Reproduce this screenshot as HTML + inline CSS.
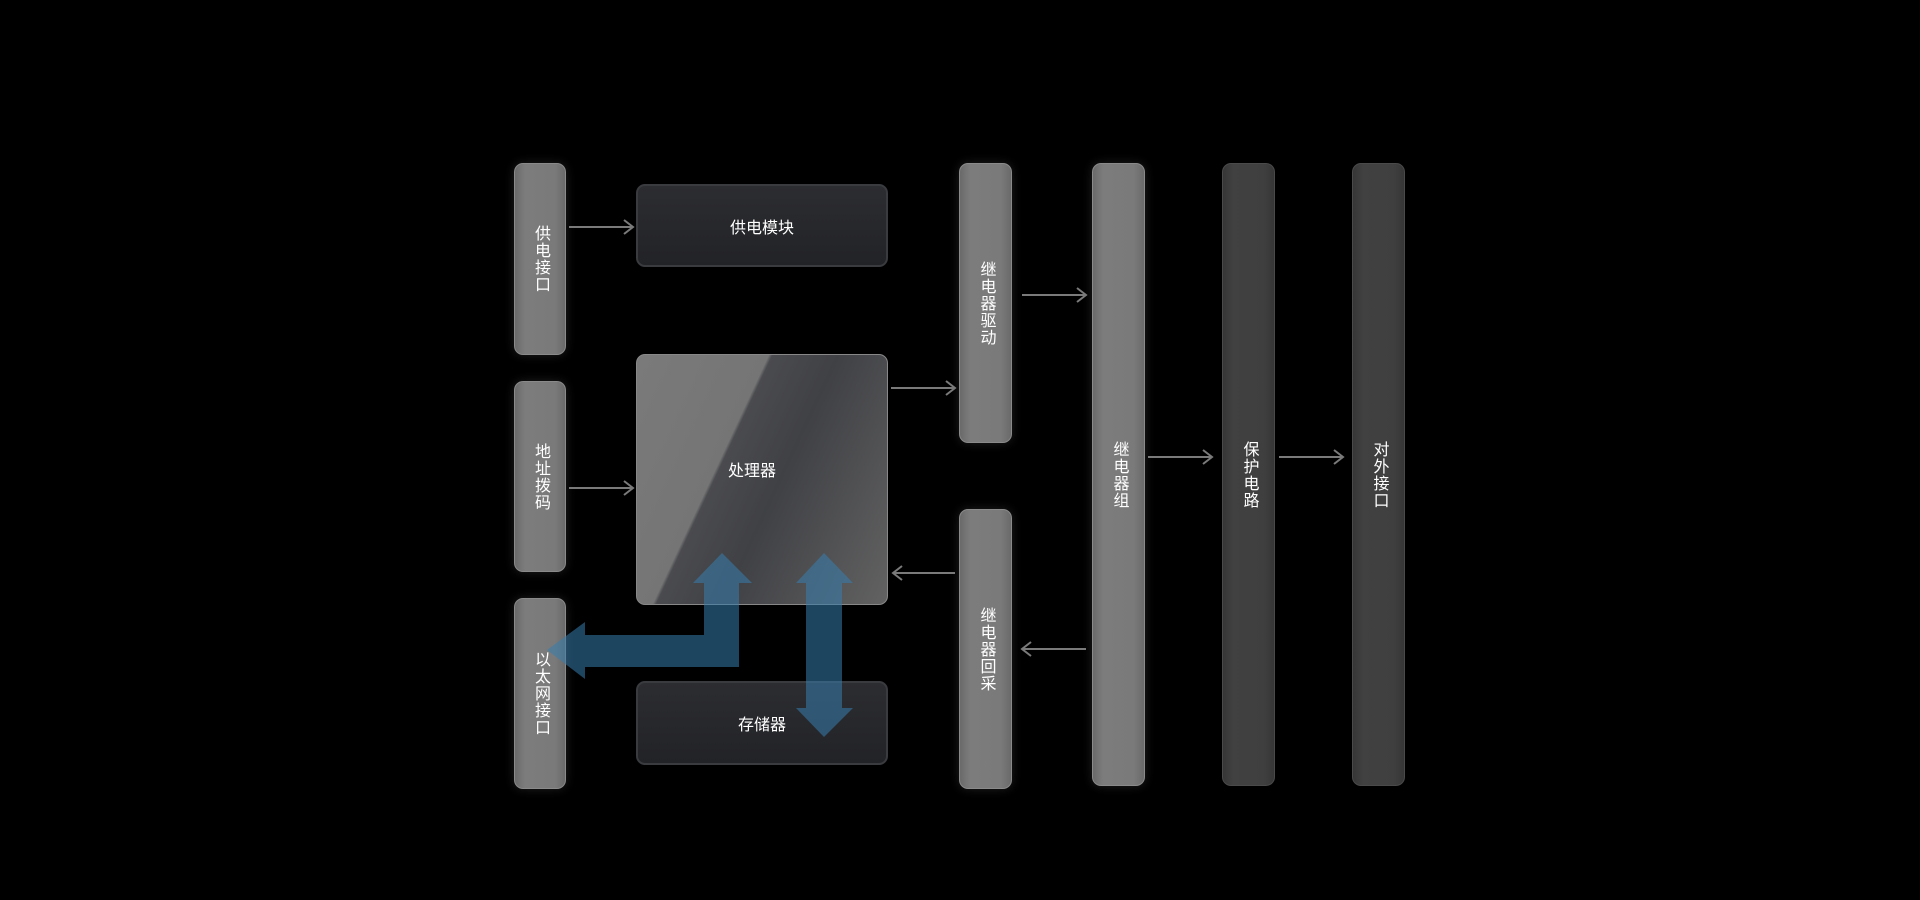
<!DOCTYPE html>
<html><head><meta charset="utf-8"><style>
body{margin:0;width:1920px;height:900px;background:#000;position:relative;overflow:hidden;font-family:"Liberation Sans","Noto Sans CJK SC",sans-serif;}
.b{position:absolute;box-sizing:border-box;border-radius:9px;color:#fff;font-size:16px;display:flex;align-items:center;justify-content:center;}
.p{background:linear-gradient(90deg,#6a6a6a,#7c7c7c 20%,#7a7a7a 80%,#6a6a6a);border:1px solid #8a8a8a;box-shadow:0 0 10px rgba(255,255,255,0.12);}
.d{background:linear-gradient(90deg,#363636,#414141 20%,#3f3f3f 80%,#363636);border:1px solid #4a4a4a;}
.v{writing-mode:vertical-rl;text-orientation:upright;letter-spacing:1px;}
.h{background:linear-gradient(180deg,#2c2d31,#222327);border:2px solid #3a3b3f;}
</style></head><body>
<div class="b p v" style="left:514px;top:163px;width:52px;height:192px">供电接口</div>
<div class="b p v" style="left:514px;top:381px;width:52px;height:191px">地址拨码</div>
<div class="b p v" style="left:514px;top:598px;width:52px;height:191px">以太网接口</div>
<div class="b h" style="left:636px;top:184px;width:252px;height:83px">供电模块</div>
<div class="b" style="left:636px;top:354px;width:252px;height:251px;border:1px solid #888;padding:0 20px 22px 0;background:linear-gradient(115deg,#7a7a7a 0%,#757575 36%,#4a4b4f 37%,#404145 55%,#626262 100%);">处理器</div>
<div class="b h" style="left:636px;top:681px;width:252px;height:84px">存储器</div>
<div class="b p v" style="left:959px;top:163px;width:53px;height:280px">继电器驱动</div>
<div class="b p v" style="left:959px;top:509px;width:53px;height:280px">继电器回采</div>
<div class="b p v" style="left:1092px;top:163px;width:53px;height:623px">继电器组</div>
<div class="b d v" style="left:1222px;top:163px;width:53px;height:623px">保护电路</div>
<div class="b d v" style="left:1352px;top:163px;width:53px;height:623px">对外接口</div>
<svg width="1920" height="900" style="position:absolute;left:0;top:0">
<g stroke="#7a7a7a" stroke-width="2" fill="none">
<path d="M569 227H633M624 220L633 227L624 234"/>
<path d="M569 488H633M624 481L633 488L624 495"/>
<path d="M891 388H955M946 381L955 388L946 395"/>
<path d="M955 573H893M902 566L893 573L902 580"/>
<path d="M1022 295H1086M1077 288L1086 295L1077 302"/>
<path d="M1086 649H1022M1031 642L1022 649L1031 656"/>
<path d="M1148 457H1212M1203 450L1212 457L1203 464"/>
<path d="M1279 457H1343M1334 450L1343 457L1334 464"/>
</g>
<g fill="rgba(55,125,175,0.55)">
<path d="M722 553L693 583H704V635H585V622L547 650L585 679V667H739V583H752Z"/>
<path d="M824 553L796 583H806V708H796L824 737L853 708H842V583H853Z"/>
</g>
</svg>
</body></html>
